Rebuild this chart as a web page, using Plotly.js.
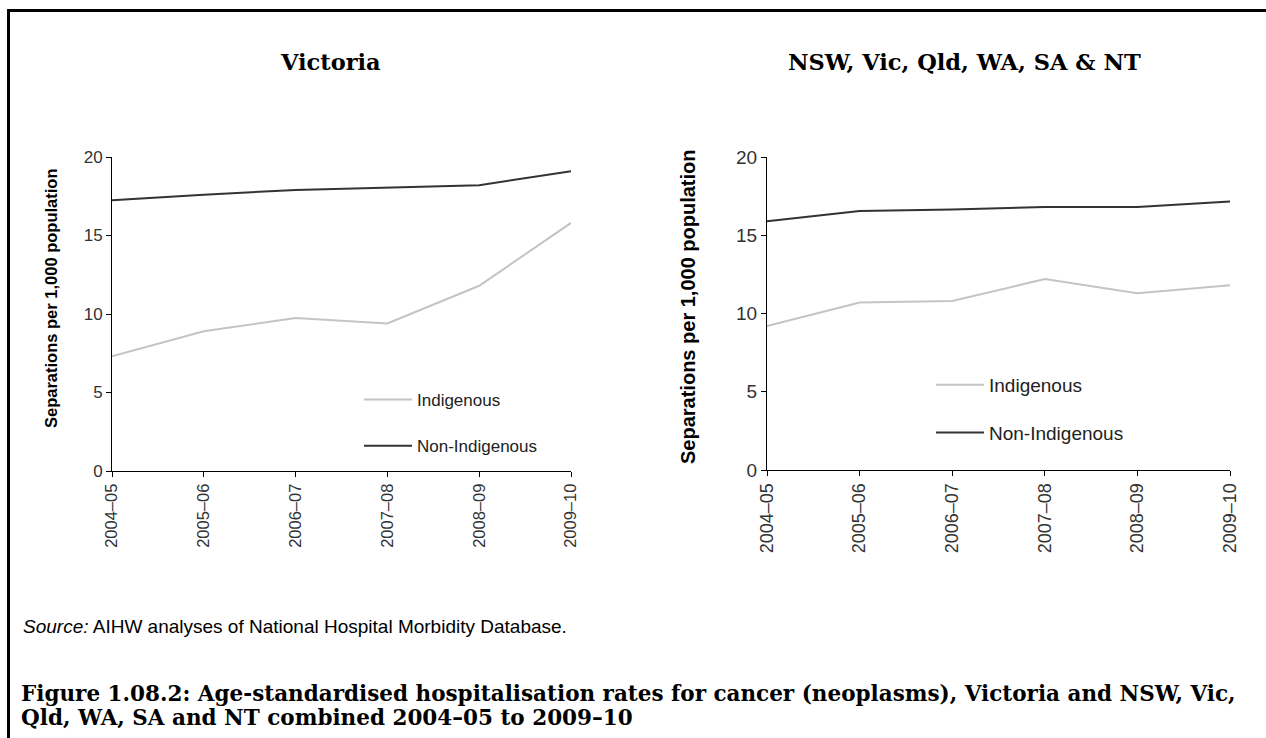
<!DOCTYPE html>
<html>
<head>
<meta charset="utf-8">
<script src="https://cdn.plot.ly/plotly-3.0.1.min.js"></script>
<style>
  body { margin: 0; background: #fff; }
  #frame { position: absolute; left: 7px; top: 9px; width: 1259px; height: 729px;
           border-top: 3px solid #000; border-left: 3px solid #000; box-sizing: border-box; pointer-events: none; }
  #chart { position: absolute; left: 0; top: 0; width: 1266px; height: 738px; }
</style>
</head>
<body>
<div id="chart"></div>
<div id="frame"></div>
<script>
const W = 1266, H = 738;

const years = ["2004–05", "2005–06", "2006–07", "2007–08", "2008–09", "2009–10"];

// Victoria
const vicIndigenous = [7.3, 8.9, 9.75, 9.4, 11.8, 15.8];
const vicNonIndigenous = [17.25, 17.6, 17.9, 18.05, 18.2, 19.1];

// NSW, Vic, Qld, WA, SA & NT combined
const allIndigenous = [9.2, 10.7, 10.8, 12.2, 11.3, 11.8];
const allNonIndigenous = [15.9, 16.55, 16.65, 16.8, 16.8, 17.15];

const panelTitles = ["Victoria", "NSW, Vic, Qld, WA, SA & NT"];
const yLabel = "Separations per 1,000 population";
const sourceNote = "<i>Source:</i> AIHW analyses of National Hospital Morbidity Database.";
const captionLines = [
  "Figure 1.08.2: Age-standardised hospitalisation rates for cancer (neoplasms), Victoria and NSW, Vic,",
  "Qld, WA, SA and NT combined 2004–05 to 2009–10"
];

const cIndig = "#c4c4c4";
const cNon = "#333333";
const sans = "Liberation Sans, Arial, sans-serif";
const serif = "DejaVu Serif, serif";

// pixel -> paper helpers
const px = x => x / W;
const py = y => 1 - y / H;

const traces = [
  { x: years, y: vicIndigenous, name: "Indigenous", type: "scatter", mode: "lines",
    line: { color: cIndig, width: 2 }, xaxis: "x", yaxis: "y", legend: "legend", legendgroup: "a" },
  { x: years, y: vicNonIndigenous, name: "Non-Indigenous", type: "scatter", mode: "lines",
    line: { color: cNon, width: 2 }, xaxis: "x", yaxis: "y", legend: "legend", legendgroup: "b" },
  { x: years, y: allIndigenous, name: "Indigenous", type: "scatter", mode: "lines",
    line: { color: cIndig, width: 2 }, xaxis: "x2", yaxis: "y2", legend: "legend2", legendgroup: "c" },
  { x: years, y: allNonIndigenous, name: "Non-Indigenous", type: "scatter", mode: "lines",
    line: { color: cNon, width: 2 }, xaxis: "x2", yaxis: "y2", legend: "legend2", legendgroup: "d" }
];

function xAx(domain, anchor, size) {
  return {
    domain: domain, anchor: anchor, type: "category", range: [0, 5],
    showline: true, linecolor: "#000", linewidth: 1, showgrid: false, zeroline: false,
    ticks: "outside", ticklen: 5, tickcolor: "#000", tickangle: -90,
    tickfont: { family: sans, size: size, color: "#333" }
  };
}
function yAx(domain, anchor, size) {
  return {
    domain: domain, anchor: anchor, range: [0, 20], dtick: 5,
    showline: true, linecolor: "#000", linewidth: 1, showgrid: false, zeroline: false,
    ticks: "outside", ticklen: 5, tickcolor: "#000",
    tickfont: { family: sans, size: size, color: "#333" }
  };
}

const legendBase = {
  bgcolor: "rgba(0,0,0,0)", borderwidth: 0, itemwidth: 48,
  xanchor: "left", yanchor: "top"
};

function note(text, x, y, size, family, extra) {
  return Object.assign({ text: text, x: px(x), y: py(y), xref: "paper", yref: "paper",
    xanchor: "center", yanchor: "middle", showarrow: false,
    font: { family: family, size: size, color: "#000" } }, extra || {});
}

const layout = {
  width: W, height: H,
  margin: { l: 0, r: 0, t: 0, b: 0 },
  paper_bgcolor: "#fff", plot_bgcolor: "#fff",
  showlegend: true,
  xaxis: xAx([px(112), px(571)], "y", 16.5),
  yaxis: yAx([py(471), py(157)], "x", 17),
  xaxis2: xAx([px(767), px(1230)], "y2", 18),
  yaxis2: yAx([py(470), py(157)], "x2", 19),
  legend: Object.assign({}, legendBase, { x: px(359), y: py(382), tracegroupgap: 21,
    font: { family: sans, size: 17, color: "#222" } }),
  legend2: Object.assign({}, legendBase, { x: px(931), y: py(366), tracegroupgap: 20,
    font: { family: sans, size: 19, color: "#222" } }),
  annotations: [
    note("<b>" + panelTitles[0] + "</b>", 330, 62, 22.5, serif),
    note("<b>" + panelTitles[1] + "</b>", 964, 62, 22.5, serif),
    note("<b>" + yLabel + "</b>", 51, 299, 16.5, sans, { textangle: -90 }),
    note("<b>" + yLabel + "</b>", 688, 307, 20, sans, { textangle: -90 }),
    note(sourceNote, 21, 626, 19, sans, { xanchor: "left" }),
    note("<b>" + captionLines[0] + "</b>", 19, 693, 21.5, serif, { xanchor: "left" }),
    note("<b>" + captionLines[1] + "</b>", 19, 717, 21.5, serif, { xanchor: "left" })
  ]
};

Plotly.newPlot("chart", traces, layout, { staticPlot: true });
</script>
</body>
</html>
